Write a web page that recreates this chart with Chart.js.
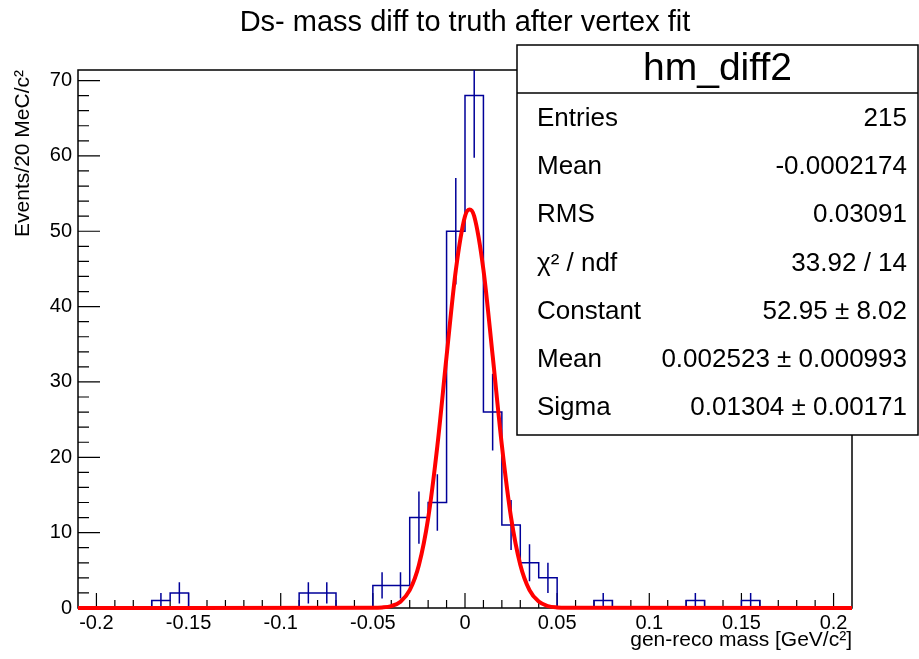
<!DOCTYPE html>
<html>
<head>
<meta charset="utf-8">
<title>hm_diff2</title>
<script src="https://cdn.jsdelivr.net/npm/chart.js@4.4.0/dist/chart.umd.min.js"></script>
<style>
  html, body { margin: 0; padding: 0; background: #fff; }
</style>
</head>
<body>
<canvas id="histChart" width="919" height="659"></canvas>
<script>
// histogram: 0.01 wide bins from -0.21 to 0.21
var binStart = -0.21;
var binWidth = 0.01;
var counts = [0, 0, 0, 0, 1, 2, 0, 0, 0, 0,
              0, 0, 2, 2, 0, 0, 3, 3, 12, 14,
              50, 68, 26, 11, 6, 4, 0, 0, 1, 0,
              0, 0, 0, 1, 0, 0, 1, 0, 0, 0,
              0, 0];

// gaus fit curve
var fitX = [-0.21, -0.05, -0.045, -0.04, -0.035, -0.03, -0.025, -0.02, -0.015, -0.01, -0.005,
            0, 0.0025, 0.005, 0.01, 0.015, 0.02, 0.025, 0.03, 0.035, 0.04, 0.045, 0.05, 0.055, 0.21];
var fitY = [0, 0.02, 0.07, 0.26, 0.84, 2.36, 5.71, 11.9, 21.5, 33.4, 44.8,
            52.0, 52.9, 52.0, 44.9, 33.5, 21.6, 12.0, 5.75, 2.38, 0.85, 0.26, 0.07, 0.02, 0];

var xTicks = [-0.2, -0.15, -0.1, -0.05, 0, 0.05, 0.1, 0.15, 0.2];
var yTicks = [0, 10, 20, 30, 40, 50, 60, 70];

var plotTitle = 'Ds- mass diff to truth after vertex fit';
var statTitle = 'hm_diff2';
var statLabels = ['Entries', 'Mean', 'RMS', 'χ² / ndf', 'Constant', 'Mean', 'Sigma'];
var statValues = ['215', '-0.0002174', '0.03091', '33.92 / 14', '52.95 ± 8.02',
                  '0.002523 ± 0.000993', '0.01304 ± 0.00171'];

var FONT = '"Liberation Sans", Arial, Helvetica, sans-serif';

var histPoints = counts.map(function (n, i) {
    return { x: binStart + i * binWidth, y: n };
});
histPoints.push({ x: binStart + counts.length * binWidth, y: 0 });

var errPoints = [];
counts.forEach(function (n, i) {
    if (n === 0) return;
    var c = binStart + (i + 0.5) * binWidth;
    errPoints.push({ x: c, y: n - Math.sqrt(n) }, { x: c, y: n + Math.sqrt(n) }, { x: c, y: null });
});

var fitPoints = fitX.map(function (x, i) { return { x: x, y: fitY[i] }; });

// frame + ROOT style inner ticks, title and the stats box
var rootLook = {
    id: 'rootLook',
    beforeDatasetsDraw: function (chart) {
        var ctx = chart.ctx, a = chart.chartArea;
        var xs = chart.scales.x, ys = chart.scales.y;
        ctx.save();
        ctx.strokeStyle = '#000';
        ctx.lineWidth = 1.5;
        ctx.strokeRect(a.left, a.top, a.right - a.left, a.bottom - a.top);
        ctx.lineWidth = 1.2;
        ctx.beginPath();
        for (var k = -20; k <= 20; k++) {
            var px = xs.getPixelForValue(k * 0.01);
            var len = (k % 5 === 0) ? 15 : 8;
            ctx.moveTo(px, a.bottom);
            ctx.lineTo(px, a.bottom - len);
        }
        for (var v = 0; v <= 70; v += 2) {
            var py = ys.getPixelForValue(v);
            var l2 = (v % 10 === 0) ? 22 : 11;
            ctx.moveTo(a.left, py);
            ctx.lineTo(a.left + l2, py);
        }
        ctx.stroke();
        ctx.restore();
    },
    afterDraw: function (chart) {
        var ctx = chart.ctx;
        ctx.save();
        ctx.fillStyle = '#000';
        ctx.textBaseline = 'middle';
        ctx.textAlign = 'center';
        ctx.font = '29px ' + FONT;
        ctx.fillText(plotTitle, 465, 23);

        var L = 517, T = 45, R = 918, B = 435;
        ctx.fillStyle = '#fff';
        ctx.fillRect(L, T, R - L, B - T);
        ctx.strokeStyle = '#000';
        ctx.lineWidth = 1.5;
        ctx.strokeRect(L, T, R - L, B - T);
        ctx.beginPath();
        ctx.moveTo(L, 93);
        ctx.lineTo(R, 93);
        ctx.stroke();

        ctx.fillStyle = '#000';
        ctx.font = '39px ' + FONT;
        ctx.fillText(statTitle, (L + R) / 2, 69);

        ctx.font = '26px ' + FONT;
        statLabels.forEach(function (lab, i) {
            var y = 118.5 + i * 48.3;
            ctx.textAlign = 'left';
            ctx.fillText(lab, 537, y);
            ctx.textAlign = 'right';
            ctx.fillText(statValues[i], 907, y);
        });
        ctx.restore();
    }
};

var ctx = document.getElementById('histChart').getContext('2d');
var myChart = new Chart(ctx, {
    type: 'line',
    data: {
        datasets: [{
            label: 'fit',
            data: fitPoints,
            borderColor: 'rgb(255, 0, 0)',
            borderWidth: 4,
            pointRadius: 0,
            cubicInterpolationMode: 'monotone',
            clip: false
        }, {
            label: 'errors',
            data: errPoints,
            borderColor: '#000099',
            borderWidth: 1.5,
            pointRadius: 0,
            spanGaps: false
        }, {
            label: 'hm_diff2',
            data: histPoints,
            borderColor: '#000099',
            borderWidth: 1.5,
            pointRadius: 0,
            stepped: 'before'
        }]
    },
    plugins: [rootLook],
    options: {
        responsive: false,
        animation: false,
        layout: { padding: { left: 0, right: 67, top: 70, bottom: 0 } },
        plugins: {
            legend: { display: false },
            tooltip: { enabled: false },
            title: { display: false }
        },
        scales: {
            x: {
                type: 'linear',
                min: -0.21,
                max: 0.21,
                afterBuildTicks: function (scale) {
                    scale.ticks = xTicks.map(function (v) { return { value: v }; });
                },
                afterFit: function (scale) { scale.height = 51; },
                ticks: {
                    color: '#000',
                    font: { family: FONT, size: 20 },
                    padding: 3,
                    maxRotation: 0,
                    autoSkip: false,
                    callback: function (v) { return String(v); }
                },
                grid: { display: false, drawTicks: false },
                border: { display: false },
                title: {
                    display: true,
                    text: 'gen-reco mass [GeV/c²]',
                    align: 'end',
                    color: '#000',
                    font: { family: FONT, size: 21 },
                    padding: { top: 0, bottom: 6 }
                }
            },
            y: {
                min: 0,
                max: 71.4,
                afterBuildTicks: function (scale) {
                    scale.ticks = yTicks.map(function (v) { return { value: v }; });
                },
                afterFit: function (scale) { scale.width = 78; },
                ticks: {
                    color: '#000',
                    font: { family: FONT, size: 20 },
                    padding: 6,
                    autoSkip: false
                },
                grid: { display: false, drawTicks: false },
                border: { display: false },
                title: {
                    display: true,
                    text: 'Events/20 MeC/c²',
                    align: 'end',
                    color: '#000',
                    font: { family: FONT, size: 21 },
                    padding: { top: 11, bottom: 0 }
                }
            }
        }
    }
});
</script>
</body>
</html>
